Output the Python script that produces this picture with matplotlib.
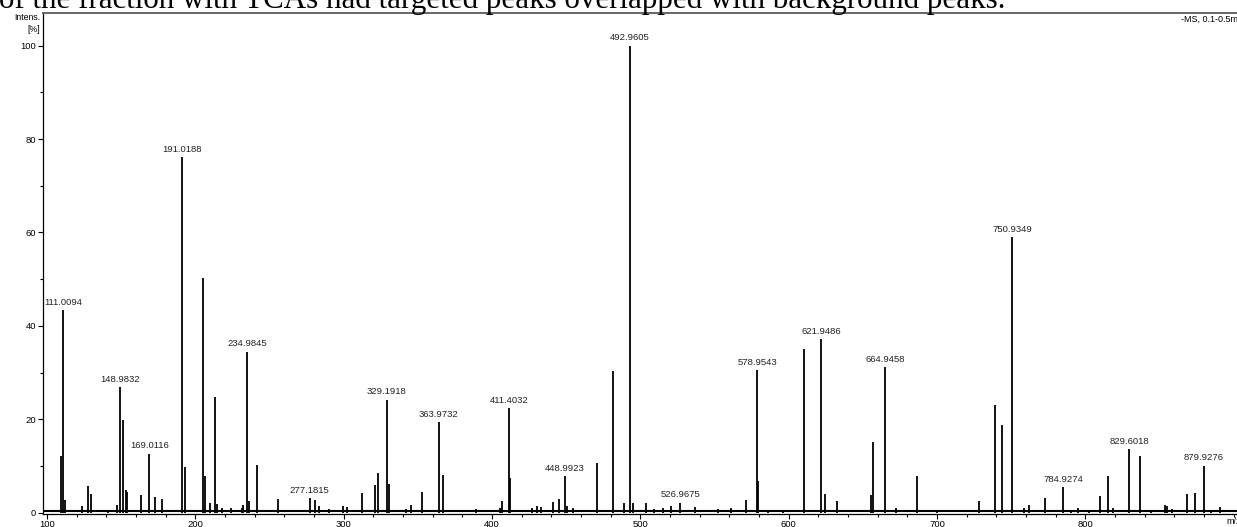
import matplotlib
matplotlib.use("Agg")
import matplotlib.pyplot as plt
from matplotlib.ticker import MultipleLocator, FixedLocator

# labelled peaks (m/z, relative intensity %)
label_mz = [111.0094, 148.9832, 169.0116, 191.0188, 234.9845, 277.1815,
            329.1918, 363.9732, 411.4032, 448.9923, 492.9605, 526.9675,
            578.9543, 621.9486, 664.9458, 750.9349, 784.9274, 829.6018,
            879.9276]
label_int = [43.3, 26.9, 12.6, 76.1, 34.4, 3.1,
             24.2, 19.3, 22.4, 7.8, 100.0, 2.1,
             30.5, 37.1, 31.1, 59.0, 5.4, 13.6,
             10.0]

# other (unlabelled) peaks
other_mz = [109.2, 111.9, 123.4, 127.4, 129.4, 141.3, 147.4, 151.0, 153.3,
            154.2, 163.4, 173.0, 177.5, 193.1, 205.4, 206.3, 209.7, 213.1,
            214.4, 217.8, 223.9, 231.3, 232.4, 236.2, 241.4, 255.5, 280.5,
            283.6, 290.4, 299.4, 302.1, 312.2, 321.4, 323.2, 330.4, 342.1,
            345.2, 352.9, 366.8, 389.1, 405.5, 407.0, 412.4, 427.0, 430.2,
            432.9, 441.0, 445.0, 450.4, 454.9, 470.6, 481.4, 489.1, 494.9,
            503.9, 509.3, 515.2, 520.6, 536.9, 552.7, 561.0, 571.3, 579.6,
            586.4, 596.5, 610.5, 624.4, 632.9, 655.4, 657.2, 672.4, 686.3,
            699.8, 728.5, 739.4, 743.8, 758.8, 762.2, 772.9, 790.5, 795.0,
            802.2, 809.6, 815.3, 818.6, 836.8, 844.2, 853.9, 855.2, 858.4,
            868.5, 874.1, 884.9, 890.9]
other_int = [12.1, 2.7, 1.4, 5.7, 4.0, 0.6, 1.6, 19.8, 4.8,
             4.5, 3.7, 3.4, 2.8, 9.8, 50.3, 7.8, 2.1, 24.8,
             1.8, 0.9, 0.9, 1.0, 1.6, 2.5, 10.2, 2.8, 2.6,
             1.3, 0.8, 1.5, 1.2, 4.2, 5.9, 8.5, 6.2, 0.7,
             1.7, 4.3, 8.0, 0.7, 1.0, 2.5, 7.5, 1.0, 1.5,
             1.2, 2.2, 2.8, 1.5, 1.0, 10.7, 30.4, 2.1, 2.0,
             2.0, 0.8, 0.9, 1.3, 1.2, 0.7, 0.9, 2.7, 6.8,
             0.6, 0.4, 35.0, 4.0, 2.5, 3.7, 15.2, 0.9, 7.8,
             0.3, 2.5, 23.0, 18.7, 1.0, 1.6, 3.2, 0.6, 0.9,
             0.6, 3.5, 7.8, 0.9, 12.1, 0.5, 1.6, 1.4, 0.7,
             3.9, 4.1, 0.3, 1.2]

x_ticks = [100, 200, 300, 400, 500, 600, 700, 800]

title_text = "of the fraction with TCAs had targeted peaks overlapped with background peaks."

plt.rcParams['font.family'] = ['Liberation Sans', 'DejaVu Sans']

fig = plt.figure(figsize=(12.37, 5.27), dpi=100)
ax = fig.add_axes([43 / 1237, 13.5 / 527, 1 - 43 / 1237, 500.5 / 527])

ax.vlines(other_mz, 0, other_int, color='black', lw=1.3)
ax.vlines(label_mz, 0, label_int, color='black', lw=1.3)
ax.axhline(0.25, color='black', lw=1.5)

for m, h in zip(label_mz, label_int):
    ax.annotate(f"{m:.4f}", (m, h), xytext=(0, 2.5), textcoords='offset points',
                ha='center', va='bottom', fontsize=6.8, color='#222222')

ax.set_xlim(97.3, 902.3)
ax.set_ylim(-0.2, 107)

ax.xaxis.set_major_locator(FixedLocator(x_ticks))
ax.xaxis.set_minor_locator(MultipleLocator(20))
ax.yaxis.set_major_locator(MultipleLocator(20))
ax.yaxis.set_minor_locator(MultipleLocator(10))
ax.tick_params(which='major', length=3.5, width=0.8, labelsize=6.8, pad=1.5)
ax.tick_params(which='minor', length=2, width=0.8)

ax.spines['right'].set_visible(False)
ax.spines['top'].set_color('#666666')
ax.spines['top'].set_linewidth(1.4)
ax.spines['left'].set_linewidth(0.9)
ax.spines['bottom'].set_linewidth(0.9)

fig.text(40 / 1237, 1 - 18 / 527, "Intens.", ha='right', va='center', fontsize=6.3)
fig.text(40 / 1237, 1 - 30 / 527, "[%]", ha='right', va='center', fontsize=6.3)
fig.text(1181 / 1237, 1 - 20 / 527, "-MS, 0.1-0.5min #(1-8)", ha='left', va='center',
         fontsize=6.5)
fig.text(1226 / 1237, 1 - 521 / 527, "m/z", ha='left', va='center', fontsize=6.5)

fig.text(-0.001, 1 - 8 / 527, title_text, ha='left', va='baseline', fontsize=22.3,
         family=['Liberation Serif', 'DejaVu Serif'])

fig.savefig("out.png", dpi=100)
